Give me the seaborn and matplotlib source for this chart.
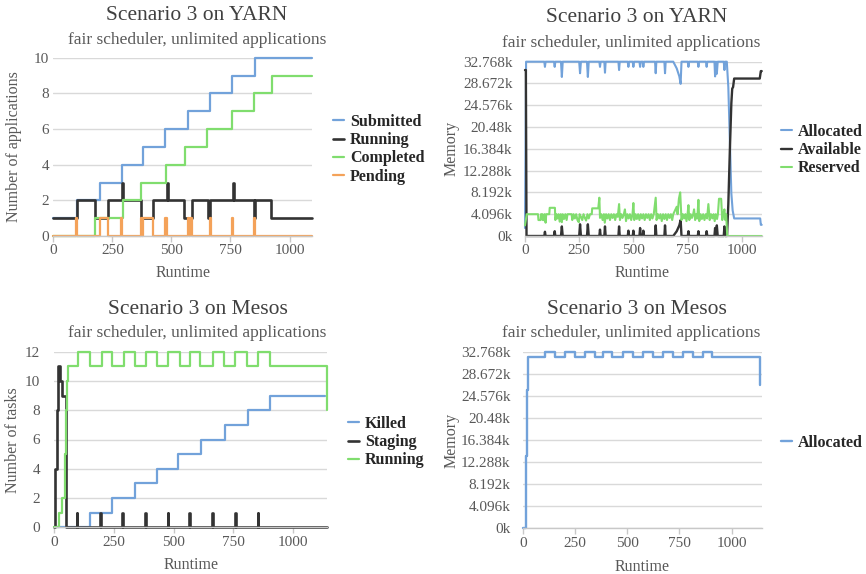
import matplotlib
matplotlib.use("Agg")
import matplotlib.pyplot as plt
import seaborn as sns

sns.set_theme(style="white")
plt.rcParams['font.family'] = ['Liberation Serif', 'DejaVu Serif']

# ---------------- data ----------------
x_ticks = [0, 250, 500, 750, 1000]

# Scenario 3 on YARN - applications (step series: time, value)
submitted_t = [0, 99, 197, 289, 380, 474, 570, 665, 757, 852, 1095]
submitted_v = [1, 2, 3, 4, 5, 6, 7, 8, 9, 10, 10]
running_t = [0, 99, 176, 232, 289, 296, 373, 423, 481, 486, 552, 585, 655, 662, 759, 764, 850, 855, 923, 1095]
running_v = [1, 2, 1, 2, 3, 2, 1, 2, 3, 2, 1, 2, 1, 2, 3, 2, 1, 2, 1, 1]
completed_t = [0, 176, 293, 373, 479, 556, 651, 757, 850, 925, 1095]
completed_v = [0, 1, 2, 3, 4, 5, 6, 7, 8, 9, 9]
pending_t = [0, 97, 101, 197, 232, 287, 292, 373, 377, 380, 423, 474, 481, 570, 573,
             580, 585, 663, 667, 755, 759, 850, 855, 1095]
pending_v = [0, 1, 0, 1, 0, 1, 0, 1, 0, 1, 0, 1, 0, 1, 0, 1, 0, 1, 0, 1, 0, 1, 0, 0]
app_yticks = [0, 2, 4, 6, 8, 10]

# Scenario 3 on YARN - memory (time, MB)
allocated_yarn = [(0, 1500), (5, 32768), (89, 32768), (92, 31800), (95, 32768), (134, 32768), (137, 31800),
                  (140, 32768), (166, 32768), (170, 29900), (174, 32768), (250, 32768), (254, 30600),
                  (258, 32768), (286, 32768), (290, 29900), (294, 32768), (343, 32768), (346, 31800),
                  (349, 32768), (366, 32768), (369, 30700), (372, 32768), (431, 32768), (434, 31200),
                  (437, 32768), (474, 32768), (477, 31800), (480, 32768), (497, 32768), (500, 31800),
                  (503, 32768), (528, 32768), (531, 31800), (534, 32768), (543, 32768), (546, 31800),
                  (549, 32768), (600, 32768), (603, 30600), (606, 32768), (643, 32768), (646, 30600),
                  (649, 32768), (684, 32768), (700, 31500), (712, 30000), (718, 28600), (722, 32768),
                  (751, 32768), (754, 31800), (757, 32768), (797, 32768), (800, 31800), (803, 32768),
                  (835, 32768), (838, 31800), (841, 32768), (874, 32768), (877, 30000), (881, 32768),
                  (885, 30500), (889, 32768), (917, 32768), (920, 31200), (923, 32768), (931, 32768),
                  (938, 28000), (945, 18000), (952, 8000), (958, 4800), (965, 3300), (1085, 3300),
                  (1088, 2100), (1092, 2100)]
available_yarn = [(0, 31200), (4, 31200), (7, 0), (89, 0), (92, 800), (95, 0), (134, 0), (137, 900), (140, 0),
                  (166, 0), (170, 1800), (174, 0), (250, 0), (254, 2200), (258, 0), (286, 0), (290, 2200),
                  (294, 0), (343, 0), (346, 1200), (349, 0), (366, 0), (369, 1800), (372, 0), (431, 0),
                  (434, 1800), (437, 0), (474, 0), (477, 1000), (480, 0), (497, 0), (500, 1000), (503, 0),
                  (528, 0), (531, 1500), (534, 0), (543, 0), (546, 1000), (549, 0), (600, 0), (603, 2000),
                  (606, 0), (643, 0), (646, 2000), (649, 0), (684, 0), (700, 900), (712, 2000), (718, 3000),
                  (722, 0), (751, 0), (754, 900), (757, 0), (797, 0), (800, 900), (803, 0), (835, 0),
                  (838, 900), (841, 0), (874, 0), (877, 1500), (881, 0), (885, 2000), (889, 0), (917, 0),
                  (920, 1800), (923, 0), (932, 0), (938, 6000), (945, 16000), (952, 25000), (956, 27700),
                  (960, 28000), (965, 29600), (1083, 29600), (1088, 31000), (1092, 31000)]
reserved_yarn = [(0, 2000), (8, 4100), (60, 4100), (62, 3000), (72, 3000), (74, 4100), (80, 4100), (82, 3000),
                 (88, 3000), (90, 4100), (95, 2500), (98, 4100), (112, 4100), (114, 5300), (138, 5300),
                 (140, 3000), (145, 4100), (150, 3300), (155, 4100), (160, 2700), (165, 4100), (170, 2600),
                 (174, 4100), (180, 3200), (186, 4100), (192, 3000), (196, 4100), (215, 4100), (218, 3000),
                 (224, 4100), (230, 3300), (236, 4100), (242, 3000), (248, 2600), (252, 4100), (258, 3600),
                 (264, 3000), (270, 4100), (276, 3400), (282, 2900), (288, 4100), (294, 3300), (300, 4100),
                 (308, 4100), (310, 5200), (338, 5200), (343, 7200), (346, 3400), (352, 4100), (358, 3000),
                 (364, 4100), (368, 2500), (374, 4100), (380, 3300), (386, 4100), (392, 3000), (398, 4100),
                 (404, 3400), (410, 4100), (416, 3000), (422, 4100), (428, 3600), (434, 6000), (438, 3000),
                 (444, 4100), (450, 3400), (456, 4100), (461, 5000), (466, 2800), (472, 4100), (478, 3300),
                 (484, 4100), (490, 3000), (496, 4100), (500, 6200), (504, 3000), (510, 4100), (516, 3200),
                 (522, 4100), (528, 3000), (534, 4100), (540, 3300), (546, 4100), (552, 3000), (558, 4100),
                 (564, 3400), (570, 4100), (576, 3000), (582, 4100), (588, 3300), (594, 4100), (603, 7200),
                 (607, 3000), (613, 4100), (619, 3300), (625, 4100), (631, 2800), (637, 4100), (643, 3200),
                 (649, 4100), (655, 3000), (661, 4100), (667, 3400), (673, 4100), (679, 3000), (684, 4100),
                 (700, 5500), (704, 4100), (710, 7000), (716, 8200), (722, 3000), (728, 4100), (734, 3300),
                 (740, 4100), (745, 2800), (750, 4100), (754, 5800), (758, 3000), (764, 4100), (770, 3400),
                 (776, 4100), (780, 5000), (785, 3000), (790, 4100), (795, 3300), (800, 6800), (804, 2800),
                 (810, 4100), (816, 3200), (822, 4100), (828, 3000), (834, 4100), (840, 3300), (846, 6000),
                 (852, 3000), (858, 4100), (864, 3300), (870, 4100), (875, 2800), (880, 4100), (886, 3200),
                 (890, 4100), (895, 7000), (905, 7000), (910, 3000), (915, 4100), (920, 5000), (924, 3000),
                 (928, 4100), (933, 0), (1092, 0)]
mem_yticks = [0, 4096, 8192, 12288, 16384, 20480, 24576, 28672, 32768]
mem_yticklabels = ['0k', '4.096k', '8.192k', '12.288k', '16.384k', '20.48k', '24.576k', '28.672k', '32.768k']

# Scenario 3 on Mesos - tasks (step series)
killed_t = [0, 150, 241, 338, 430, 520, 614, 716, 811, 905, 1135]
killed_v = [0, 1, 2, 3, 4, 5, 6, 7, 8, 9, 9]
staging_t = [0, 4, 11, 17, 25, 33, 47, 50, 53, 94, 97, 192, 195, 286, 289, 380, 383, 475, 478,
             567, 570, 663, 666, 758, 761, 853, 856, 1145]
staging_v = [0, 4, 8, 11, 10, 9, 3, 0, 0, 1, 0, 1, 0, 1, 0, 1, 0, 1, 0, 1, 0, 1, 0, 1, 0, 1, 0, 0]
mrunning_t = [0, 20, 31, 46, 49, 52, 56, 101, 150, 199, 241, 292, 338, 383, 430, 478, 527, 569, 611,
              667, 712, 758, 807, 856, 905, 1145]
mrunning_v = [0, 1, 2, 5, 8, 10, 11, 12, 11, 12, 11, 12, 11, 12, 11, 12, 11, 12, 11, 12, 11, 12, 11, 12, 11, 8]
task_yticks = [0, 2, 4, 6, 8, 10, 12]

# Scenario 3 on Mesos - memory (step series)
mallocated_t = [0, 13, 18, 23, 105, 153, 201, 249, 297, 345, 385, 428, 481, 529, 576, 624, 672, 720,
                768, 816, 864, 905, 1135, 1137]
mallocated_v = [0, 13400, 25600, 31700, 32768, 31700, 32768, 31700, 32768, 31700, 32768, 31700, 32768,
                31700, 32768, 31700, 32768, 31700, 32768, 31700, 32768, 31700, 26500, 26500]

title_yarn = "Scenario 3 on YARN"
title_mesos = "Scenario 3 on Mesos"
subtitle = "fair scheduler, unlimited applications"

# ---------------- style ----------------
BLUE = '#72a2da'
BLACK = '#333333'
GREEN = '#80dd6e'
ORANGE = '#f4a259'
GRID = '#d9d9d9'
TXT = '#595959'
TITLE = '#404040'

W, H = 866, 574
fig = plt.figure(figsize=(W / 100, H / 100), dpi=100)


def add_axes(left, top, right, bottom):
    return fig.add_axes([left / W, 1 - bottom / H, (right - left) / W, (bottom - top) / H])


def style(ax, xmax, ymax, yticks, ylabels, ylabel, ypad, xl, yl):
    ax.set_xlim(0, xmax)
    ax.set_ylim(0, ymax)
    ax.set_xticks(x_ticks)
    ax.set_yticks(yticks)
    ax.set_yticklabels(ylabels)
    ax.yaxis.grid(True, color=GRID, lw=1.0)
    ax.xaxis.grid(False)
    ax.set_axisbelow(True)
    for s in ['top', 'right', 'left']:
        ax.spines[s].set_visible(False)
    ax.spines['bottom'].set_color('#c8c8c8')
    ax.spines['bottom'].set_linewidth(1.0)
    ax.tick_params(axis='x', length=4, width=1, color='#c8c8c8', labelsize=11, labelcolor=TXT, pad=2,
                   bottom=True, direction='out')
    ax.tick_params(axis='y', length=0, labelsize=11, labelcolor=TXT, pad=ypad)
    ax.set_xlabel('Runtime', fontsize=11.5, color=TXT)
    ax.set_ylabel(ylabel, fontsize=11.5, color=TXT)
    ax.xaxis.set_label_coords(xl[0], xl[1])
    ax.xaxis.label.set_va('center')
    ax.yaxis.set_label_coords(yl[0], yl[1])
    ax.yaxis.label.set_va('center')


def titles(cx_t, y_t, cx_s, y_s, text):
    fig.text(cx_t / W, 1 - y_t / H, text, ha='center', va='center', fontsize=15.5, color=TITLE)
    fig.text(cx_s / W, 1 - y_s / H, subtitle, ha='center', va='center', fontsize=12.5, color=TXT)


def legend(ax, lines, labels, x, y, spacing):
    ax.legend(lines, labels, loc='upper left', bbox_to_anchor=(x / W, 1 - y / H),
              bbox_transform=fig.transFigure, frameon=False, handlelength=0.7, handletextpad=0.35,
              labelspacing=spacing, borderaxespad=0, borderpad=0,
              prop={'family': 'Liberation Serif', 'weight': 'bold', 'size': 11.5}, labelcolor='#262626')


def line(ax, x, y, color, lw=1.6, steps=True):
    kw = dict(drawstyle='steps-post') if steps else {}
    sns.lineplot(x=list(x), y=list(y), ax=ax, color=color, lw=lw, estimator=None, sort=False,
                 legend=False, clip_on=False, **kw)
    return ax.get_lines()[-1]


# ---- top-left ----
ax1 = add_axes(53.3, 57.7, 312, 236)
l1 = line(ax1, submitted_t, submitted_v, BLUE)
l2 = line(ax1, running_t, running_v, BLACK, lw=1.9)
l3 = line(ax1, completed_t, completed_v, GREEN)
l4 = line(ax1, pending_t, pending_v, ORANGE)
style(ax1, 1095, 10, app_yticks, [str(v) for v in app_yticks], 'Number of applications', 3,
      (0.5, -0.2075), (-0.15, 0.5))
titles(197, 15, 197, 40, title_yarn)
legend(ax1, [l1, l2, l3, l4], ['Submitted', 'Running', 'Completed', 'Pending'], 333, 114, 0.14)

# ---- top-right ----
ax2 = add_axes(525, 61.7, 761.7, 236)
t, v = zip(*allocated_yarn)
m1 = line(ax2, t, v, BLUE, lw=1.5, steps=False)
t, v = zip(*available_yarn)
m2 = line(ax2, t, v, BLACK, lw=1.7, steps=False)
t, v = zip(*reserved_yarn)
m3 = line(ax2, t, v, GREEN, lw=1.5, steps=False)
style(ax2, 1092, 32768, mem_yticks, mem_yticklabels, 'Memory', 9,
      (0.496, -0.213), (-0.31, 0.5))
titles(636.7, 18, 630.7, 43, title_yarn)
legend(ax2, [m1, m2, m3], ['Allocated', 'Available', 'Reserved'], 781, 124, 0.14)

# ---- bottom-left ----
ax3 = add_axes(54.3, 351.7, 327.3, 527.3)
k1 = line(ax3, killed_t, killed_v, BLUE)
k2 = line(ax3, staging_t, staging_v, BLACK, lw=1.9)
k3 = line(ax3, mrunning_t, mrunning_v, GREEN)
style(ax3, 1145, 12, task_yticks, [str(v) for v in task_yticks], 'Number of tasks', 10,
      (0.5, -0.215), (-0.153, 0.497))
titles(197.5, 310, 197, 333.3, title_mesos)
legend(ax3, [k1, k2, k3], ['Killed', 'Staging', 'Running'], 348, 416, 0.14)

# ---- bottom-right ----
ax4 = add_axes(523, 351.7, 761.7, 528.3)
a1 = line(ax4, mallocated_t, mallocated_v, BLUE, lw=1.7)
style(ax4, 1144, 32768, mem_yticks, mem_yticklabels, 'Memory', 9,
      (0.5, -0.217), (-0.299, 0.5))
titles(636.7, 310, 630.7, 333.3, title_mesos)
legend(ax4, [a1], ['Allocated'], 781, 435, 0.14)

fig.savefig('out.png', dpi=100, facecolor='white')
